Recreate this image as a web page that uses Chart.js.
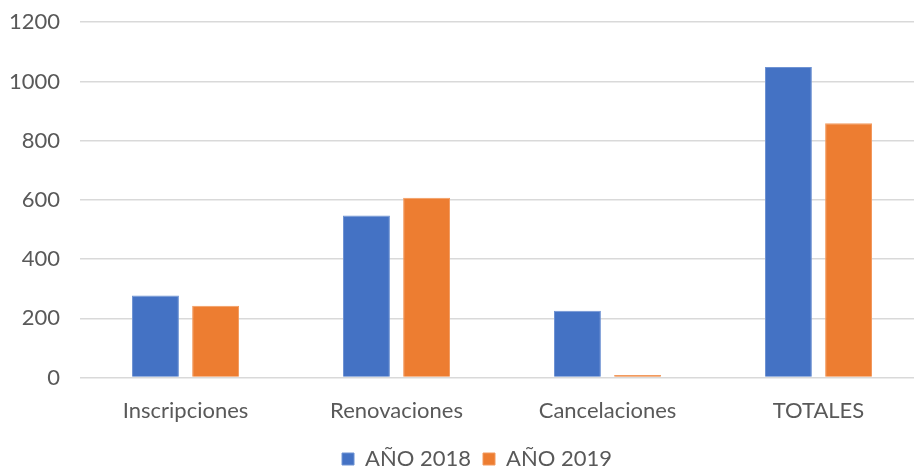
<!DOCTYPE html>
<html>
<head>
<meta charset="utf-8">
<script src="https://cdn.jsdelivr.net/npm/chart.js@4"></script>
<style>
  html, body { margin: 0; padding: 0; background: #fff; overflow: hidden; }
  #wrap { width: 924px; height: 480px; }
</style>
</head>
<body>
<div id="wrap"><canvas id="chart" width="924" height="480"></canvas></div>
<script>
// categories and series
const categories = ["Inscripciones", "Renovaciones", "Cancelaciones", "TOTALES"];
const values2018 = [277, 547, 226, 1049];
const values2019 = [243, 607, 9, 859];
const seriesNames = ["AÑO 2018", "AÑO 2019"];

const textColor = "#595959";
const font = { family: "Lato, 'Open Sans', sans-serif", size: 22 };

// nudge the legend sideways, the original sits a little right of centre
const legendShift = {
	id: "legendShift",
	afterLayout(chart) {
		chart.legend.left += 15;
		chart.legend.right += 15;
	}
};

new Chart(document.getElementById("chart"), {
	type: "bar",
	data: {
		labels: categories,
		datasets: [
			{
				label: seriesNames[0],
				data: values2018,
				backgroundColor: "#4472C4",
				borderColor: "#6f93d3",
				borderWidth: 1
			},
			{
				label: seriesNames[1],
				data: values2019,
				backgroundColor: "#ED7D31",
				borderColor: "#f29a5e",
				borderWidth: 1
			}
		]
	},
	plugins: [legendShift],
	options: {
		responsive: false,
		animation: false,
		devicePixelRatio: 1,
		layout: { padding: { top: 0, left: 0, right: 0, bottom: 0 } },
		datasets: {
			bar: { categoryPercentage: 0.57, barPercentage: 0.78 }
		},
		plugins: {
			tooltip: { enabled: false },
			legend: {
				position: "bottom",
				labels: {
					color: textColor,
					font: font,
					boxWidth: 12,
					boxHeight: 12,
					padding: 12,
					useBorderRadius: false
				}
			}
		},
		scales: {
			x: {
				grid: { display: false },
				border: { display: false },
				ticks: { color: textColor, font: font, padding: 12 }
			},
			y: {
				min: 0,
				max: 1200,
				grid: { color: "#d9d9d9", lineWidth: 1.5, drawTicks: true, tickLength: 11, tickColor: "rgba(0,0,0,0)" },
				border: { display: false },
				ticks: { stepSize: 200, color: textColor, font: font, padding: 9, callback: (v) => String(v) }
			}
		}
	}
});
</script>
</body>
</html>
